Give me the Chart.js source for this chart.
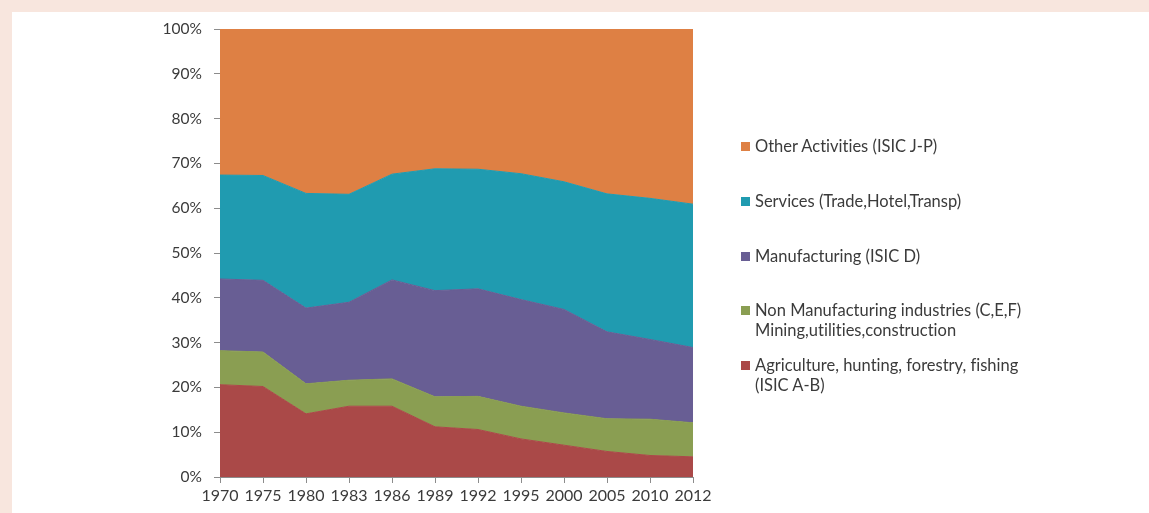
<!DOCTYPE html>
<html>
<head>
<meta charset="utf-8">
<script src="https://cdn.jsdelivr.net/npm/chart.js@4.4.1/dist/chart.umd.min.js"></script>
<style>
  html, body { margin: 0; padding: 0; }
  body { width: 1149px; height: 513px; background: #f8e6de; position: relative; overflow: hidden; }
  #panel { position: absolute; left: 12px; top: 12px; right: 0; bottom: 0; background: #ffffff; }
  #wrap { position: absolute; left: 0; top: 0; width: 1149px; height: 513px; }
  #legend { position: absolute; left: 0; top: 0; font-family: Lato, "Open Sans", sans-serif; font-size: 16.5px; color: #3b3b3b; font-variant-ligatures: none; }
  .item { position: absolute; left: 755px; line-height: 20.7px; white-space: nowrap; }
  .swatch { position: absolute; left: 741px; width: 9px; height: 9px; }
</style>
</head>
<body>
<div id="panel"></div>
<div id="wrap"><canvas id="c" width="1149" height="513"></canvas></div>
<div id="legend"></div>
<script>
// Share of value added by sector, per year (percent of total)
const years = ['1970', '1975', '1980', '1983', '1986', '1989', '1992', '1995', '2000', '2005', '2010', '2012'];

const agriculture    = [20.6, 20.2, 14.1, 15.8, 15.8, 11.2, 10.6, 8.5, 7.1, 5.7, 4.8, 4.5];
const nonManufact    = [7.6, 7.7, 6.7, 5.8, 6.1, 6.7, 7.4, 7.3, 7.2, 7.3, 8.1, 7.6];
const manufacturing  = [16.0, 16.0, 16.9, 17.4, 22.1, 23.7, 24.0, 23.8, 23.1, 19.4, 17.8, 16.8];
const services       = [23.2, 23.4, 25.6, 24.1, 23.6, 27.2, 26.7, 28.1, 28.5, 30.8, 31.5, 32.0];
const otherActivities = [32.6, 32.7, 36.7, 36.9, 32.4, 31.2, 31.3, 32.3, 34.1, 36.8, 37.8, 39.1];

const seriesNames = [
  ['Agriculture, hunting, forestry, fishing', '(ISIC A-B)'],
  ['Non Manufacturing industries (C,E,F)', 'Mining,utilities,construction'],
  ['Manufacturing (ISIC D)'],
  ['Services (Trade,Hotel,Transp)'],
  ['Other Activities (ISIC J-P)']
];
const seriesData = [agriculture, nonManufact, manufacturing, services, otherActivities];
const seriesColors = ['#aa4948', '#8a9e52', '#685e94', '#209bb0', '#de8044'];

const yTickValues = [0, 10, 20, 30, 40, 50, 60, 70, 80, 90, 100];

const FONT_X = { family: 'Lato, "Open Sans", sans-serif', size: 16 };
const FONT_Y = { family: 'Lato, "Open Sans", sans-serif', size: 15.5 };
const TEXT = '#3b3b3b';
const AXIS = '#8c8c8c';

const datasets = seriesData.map((d, i) => ({
  label: seriesNames[i].join(' '),
  data: d,
  backgroundColor: seriesColors[i],
  borderColor: seriesColors[i],
  borderWidth: 1,
  pointRadius: 0,
  tension: 0,
  fill: i === 0 ? 'origin' : '-1'
}));

new Chart(document.getElementById('c'), {
  type: 'line',
  data: { labels: years, datasets },
  options: {
    responsive: false,
    animation: false,
    layout: { padding: { left: 0, top: 29, right: 456, bottom: 0 } },
    plugins: { legend: { display: false }, tooltip: { enabled: false } },
    scales: {
      x: {
        offset: false,
        grid: { display: true, drawOnChartArea: false, drawTicks: true, tickLength: 6, color: AXIS },
        border: { display: true, color: AXIS, width: 1 },
        ticks: { color: TEXT, font: FONT_X, padding: 3, maxRotation: 0, autoSkip: false },
        afterFit: (s) => { s.height = 36; }
      },
      y: {
        stacked: true,
        min: 0,
        max: 100,
        afterBuildTicks: (s) => { s.ticks = yTickValues.map(v => ({ value: v })); },
        grid: { display: true, drawOnChartArea: false, drawTicks: true, tickLength: 6, color: AXIS },
        border: { display: true, color: AXIS, width: 1 },
        ticks: { color: TEXT, font: FONT_Y, padding: 12, callback: (v) => v + '%' },
        afterFit: (s) => { s.width = 220; }
      }
    }
  }
});

// Legend, listed top-down from the last series to the first
const legend = document.getElementById('legend');
const firstLineCenters = [146, 201, 256, 310, 365];
seriesNames.slice().reverse().forEach((lines, k) => {
  const idx = seriesNames.length - 1 - k;
  const cy = firstLineCenters[k];
  const sw = document.createElement('div');
  sw.className = 'swatch';
  sw.style.top = (cy - 4.5) + 'px';
  sw.style.background = seriesColors[idx];
  legend.appendChild(sw);
  const t = document.createElement('div');
  t.className = 'item';
  t.style.top = (cy - 10.35) + 'px';
  t.innerHTML = lines.map(s => s.replace(/&/g, '&amp;')).join('<br>');
  legend.appendChild(t);
});
</script>
</body>
</html>
